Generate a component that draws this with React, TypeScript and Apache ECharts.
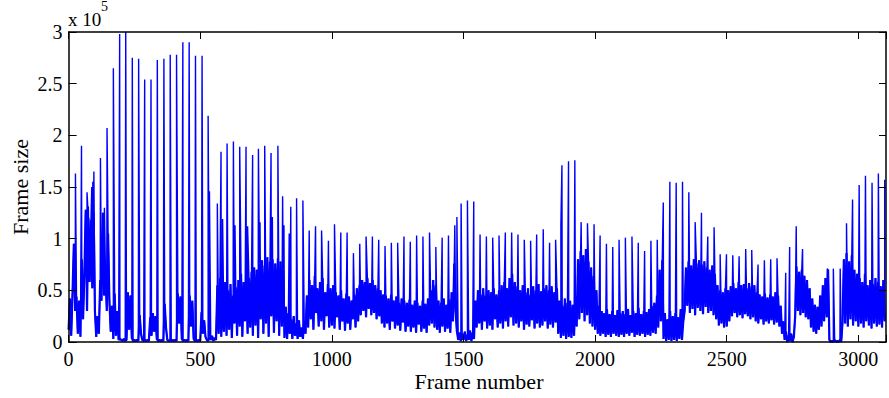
import React, { useEffect, useRef } from "react";
import * as echarts from "echarts";

// Frame sizes (in thousands of bytes) sampled every 5 frames (P/B frame band)
const pbStep = 5;
const pb0to495 = [
  12, 42, 6, 48, 95, 30, 44, 8, 40, 5, 80, 22, 66, 128, 30, 120, 58, 118, 52, 125,
  30, 5, 25, 8, 60, 40, 125, 45, 70, 30, 105, 40, 10, 35, 3, 47, 6, 30, 2, 3,
  2, 1, 3, 1, 2, 48, 12, 45, 4, 1, 2, 1, 2, 1, 26, 8, 2, 1, 2, 1,
  2, 1, 24, 6, 28, 10, 25, 3, 1, 2, 1, 2, 1, 37, 14, 2, 1, 2, 1, 2,
  1, 2, 1, 47, 18, 44, 3, 1, 2, 1, 2, 1, 45, 15, 40, 3, 1, 2, 1, 2,
];
const pb500to995 = [
  1, 29, 8, 21, 5, 2, 1, 5, 2, 6, 1, 4, 2, 55, 8, 62, 5, 48, 10, 58,
  6, 50, 12, 56, 4, 45, 18, 53, 6, 60, 15, 66, 5, 58, 20, 64, 8, 62, 14, 68,
  6, 72, 16, 70, 4, 76, 22, 79, 8, 74, 18, 82, 5, 78, 25, 80, 9, 76, 20, 81,
  6, 78, 15, 70, 4, 34, 3, 28, 8, 22, 3, 25, 6, 18, 3, 21, 5, 14, 3, 20,
  8, 45, 14, 60, 22, 55, 12, 64, 28, 52, 15, 58, 20, 62, 12, 48, 25, 56, 14, 52,
];
const pb1000to1495 = [
  16, 55, 13, 48, 24, 45, 12, 50, 20, 42, 11, 47, 18, 44, 12, 40, 22, 46, 14, 52,
  20, 55, 26, 60, 30, 58, 24, 62, 32, 57, 26, 60, 28, 55, 22, 52, 25, 50, 18, 46,
  14, 45, 18, 42, 12, 46, 20, 40, 13, 44, 16, 38, 11, 42, 19, 40, 10, 38, 15, 41,
  10, 36, 14, 40, 9, 38, 17, 35, 10, 40, 13, 37, 9, 42, 16, 50, 18, 60, 14, 55,
  12, 40, 9, 38, 15, 42, 10, 36, 13, 41, 9, 48, 20, 76, 30, 10, 2, 9, 1, 8,
];
const pb1500to1995 = [
  2, 10, 1, 7, 2, 11, 1, 9, 3, 40, 14, 50, 18, 46, 12, 52, 20, 45, 13, 50,
  16, 48, 12, 52, 22, 46, 14, 50, 18, 55, 13, 58, 20, 52, 15, 62, 24, 66, 16, 58,
  18, 54, 14, 50, 20, 55, 12, 48, 17, 52, 15, 46, 21, 54, 13, 50, 18, 56, 14, 49,
  16, 52, 20, 55, 13, 50, 17, 54, 14, 48, 19, 52, 8, 40, 4, 35, 6, 42, 3, 38,
  5, 40, 4, 36, 6, 44, 15, 80, 22, 88, 28, 84, 20, 90, 26, 78, 18, 72, 15, 64,
];
const pb2000to2495 = [
  12, 50, 8, 35, 6, 30, 8, 28, 5, 32, 7, 27, 5, 30, 8, 26, 6, 31, 5, 28,
  7, 30, 5, 27, 8, 32, 6, 26, 9, 30, 5, 28, 7, 33, 6, 27, 8, 30, 5, 29,
  7, 32, 6, 35, 9, 38, 8, 45, 14, 70, 20, 79, 3, 28, 1, 22, 2, 30, 1, 25,
  2, 28, 1, 24, 3, 32, 2, 20, 30, 72, 35, 78, 28, 74, 32, 80, 26, 76, 33, 79,
  30, 75, 27, 78, 34, 72, 28, 70, 30, 74, 26, 66, 22, 55, 16, 50, 18, 48, 14, 52,
];
const pb2500to2995 = [
  15, 50, 20, 54, 25, 57, 28, 52, 24, 58, 26, 55, 23, 56, 27, 52, 25, 57, 22, 54,
  24, 55, 20, 48, 18, 46, 22, 44, 17, 47, 20, 43, 18, 46, 21, 44, 17, 48, 19, 45,
  15, 35, 8, 20, 2, 10, 0, 6, 1, 8, 0, 5, 25, 73, 30, 68, 26, 70, 28, 64,
  24, 60, 22, 52, 14, 42, 10, 36, 8, 34, 12, 45, 15, 55, 20, 62, 24, 70, 2, 0,
  1, 0, 2, 0, 1, 0, 2, 0, 20, 80, 18, 86, 15, 78, 22, 84, 16, 70, 20, 66,
];
const pb3000to3100 = [
  15, 62, 18, 58, 14, 66, 20, 55, 16, 60, 13, 56, 18, 62, 15, 58, 17, 54, 14, 60, 20,
];

// I-frame (and large P-frame) spikes: frame numbers and sizes (thousands)
const iFrames = [
  26, 49, 70, 75, 88, 92, 96, 121, 136, 146, 170, 194, 217, 242, 266, 289, 313, 337, 362, 386,
  410, 434, 458, 482, 507, 530, 535, 565, 579, 585, 602, 626, 632, 650, 674, 680, 699, 721, 727, 745,
  769, 774, 795, 813, 818, 838, 844, 866, 890, 914, 938, 961, 987, 1010, 1034, 1058, 1082, 1106, 1130, 1154,
  1178, 1202, 1226, 1250, 1274, 1298, 1322, 1346, 1371, 1395, 1419, 1443, 1467, 1475, 1491, 1515, 1539, 1563, 1587, 1611,
  1635, 1659, 1683, 1707, 1731, 1755, 1778, 1803, 1827, 1850, 1870, 1874, 1899, 1923, 1947, 1971, 1996, 2019, 2043, 2067,
  2091, 2115, 2140, 2164, 2188, 2212, 2236, 2259, 2284, 2308, 2332, 2356, 2380, 2404, 2428, 2452, 2475, 2499, 2523, 2547,
  2572, 2595, 2619, 2643, 2667, 2691, 2724, 2739, 2764, 2788, 2882, 2905, 2931, 2955, 2978, 3003, 3027, 3052, 3076, 3100,
];
const iSizes = [
  163, 190, 145, 131, 150, 155, 165, 178, 130, 207, 265, 298, 300, 275, 274, 254, 254, 273, 274, 278,
  278, 290, 290, 277, 277, 219, 146, 134, 184, 119, 192, 194, 113, 189, 189, 112, 181, 187, 116, 190,
  183, 121, 190, 141, 113, 105, 131, 139, 137, 108, 112, 108, 98, 114, 106, 106, 86, 95, 102, 102,
  99, 93, 96, 96, 102, 97, 103, 102, 106, 92, 101, 103, 113, 121, 134, 137, 136, 104, 102, 101,
  103, 106, 106, 104, 99, 98, 104, 109, 96, 99, 113, 171, 175, 176, 116, 115, 114, 103, 95, 92,
  99, 101, 102, 96, 88, 98, 99, 135, 155, 154, 155, 145, 116, 125, 102, 111, 85, 85, 84, 83,
  90, 89, 75, 79, 80, 81, 67, 92, 112, 90, 71, 71, 71, 115, 138, 152, 161, 154, 163, 157,
];

const xTickValues = [0, 500, 1000, 1500, 2000, 2500, 3000];
const yTickLabels = ["0", "0.5", "1", "1.5", "2", "2.5", "3"];

const FONT = "Liberation Serif";

function pbPoints(): [number, number][] {
  const pbAll = [
    ...pb0to495,
    ...pb500to995,
    ...pb1000to1495,
    ...pb1500to1995,
    ...pb2000to2495,
    ...pb2500to2995,
    ...pb3000to3100,
  ];
  return pbAll.map((v, i) => [i * pbStep, v * 1000]);
}

function buildSeries(): [number, number][] {
  const pts: [number, number, number][] = [];
  pbPoints().forEach((p) => pts.push([p[0], p[1], 0]));
  iFrames.forEach((f, i) => pts.push([f, iSizes[i] * 1000, 1]));
  pts.sort((a, b) => a[0] - b[0] || a[2] - b[2]);
  return pts.map((p) => [p[0], p[1]]);
}

function buildOption() {
  const axisLine = { show: true, onZero: false, lineStyle: { color: "#000", width: 1.5 } };
  const tickStyle = { show: true, inside: true, length: 7, lineStyle: { color: "#000", width: 1 } };
  const labelBase = { fontFamily: FONT, fontSize: 20, color: "#000" };
  const xMax = 3105;
  return {
    animation: false,
    textStyle: { fontFamily: FONT },
    grid: { left: 68.6, top: 32, width: 821, height: 310 },
    xAxis: [
      {
        type: "value",
        min: 0,
        max: xMax,
        interval: 500,
        position: "bottom",
        z: 5,
        axisLine,
        axisTick: tickStyle,
        splitLine: { show: false },
        axisLabel: {
          ...labelBase,
          margin: 7,
          formatter: (v: number) => (xTickValues.includes(v) ? String(v) : ""),
        },
      },
      {
        type: "value",
        min: 0,
        max: xMax,
        interval: 500,
        position: "top",
        z: 5,
        axisLine,
        axisTick: tickStyle,
        splitLine: { show: false },
        axisLabel: { show: false },
      },
    ],
    yAxis: [
      {
        type: "value",
        min: 0,
        max: 300000,
        interval: 50000,
        position: "left",
        z: 5,
        axisLine,
        axisTick: { ...tickStyle, length: 8 },
        splitLine: { show: false },
        axisLabel: {
          ...labelBase,
          margin: 6,
          formatter: (v: number) => yTickLabels[Math.round(v / 50000)] ?? "",
        },
      },
      {
        type: "value",
        min: 0,
        max: 300000,
        interval: 50000,
        position: "right",
        z: 5,
        axisLine,
        axisTick: { ...tickStyle, length: 7 },
        splitLine: { show: false },
        axisLabel: { show: false },
      },
    ],
    series: [
      {
        type: "line",
        xAxisIndex: 0,
        yAxisIndex: 0,
        data: pbPoints(),
        showSymbol: false,
        symbol: "none",
        silent: true,
        lineStyle: { color: "#0000ff", width: 2.2 },
        itemStyle: { color: "#0000ff" },
        z: 2,
      },
      {
        type: "line",
        xAxisIndex: 0,
        yAxisIndex: 0,
        data: buildSeries(),
        showSymbol: false,
        symbol: "none",
        lineStyle: { color: "#0000ff", width: 1.4 },
        itemStyle: { color: "#0000ff" },
        z: 3,
      },
    ],
    graphic: [
      {
        type: "text",
        x: 479,
        y: 381,
        style: {
          text: "Frame number",
          fontFamily: FONT,
          fontSize: 22,
          fill: "#000",
          textAlign: "center",
          textVerticalAlign: "middle",
        },
      },
      {
        type: "text",
        x: 20,
        y: 187,
        rotation: Math.PI / 2,
        style: {
          text: "Frame size",
          fontFamily: FONT,
          fontSize: 22,
          fill: "#000",
          textAlign: "center",
          textVerticalAlign: "middle",
        },
      },
      {
        type: "text",
        x: 68,
        y: 19,
        style: {
          text: "x 10",
          fontFamily: FONT,
          fontSize: 19,
          fill: "#000",
          textAlign: "left",
          textVerticalAlign: "middle",
        },
      },
      {
        type: "text",
        x: 101,
        y: 6,
        style: {
          text: "5",
          fontFamily: FONT,
          fontSize: 14,
          fill: "#000",
          textAlign: "left",
          textVerticalAlign: "middle",
        },
      },
    ],
  };
}

export default function App() {
  const ref = useRef<HTMLDivElement>(null);
  useEffect(() => {
    document.body.style.margin = "0";
    const chart = echarts.init(ref.current!, null, { renderer: "svg" });
    chart.setOption(buildOption());
    return () => {
      chart.dispose();
    };
  }, []);
  return <div ref={ref} style={{ width: 889, height: 398 }} />;
}
